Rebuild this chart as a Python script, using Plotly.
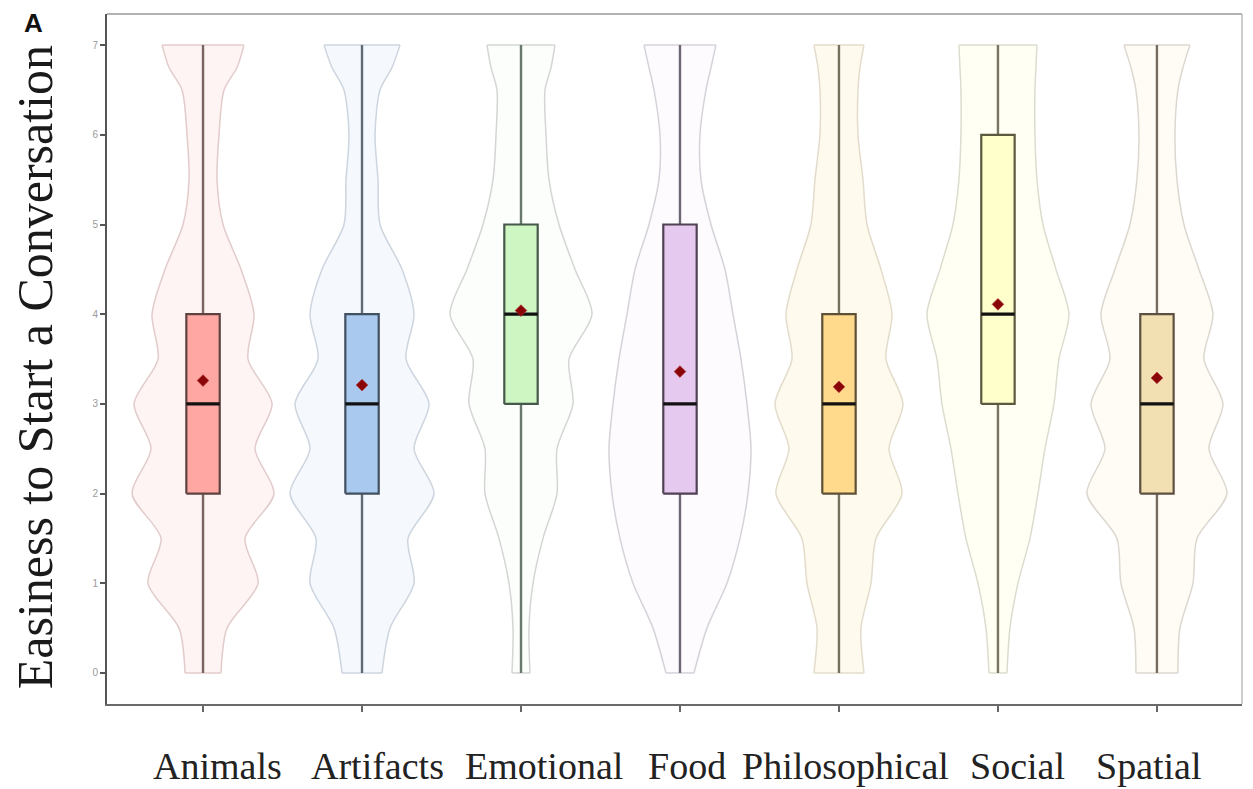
import plotly.graph_objects as go

# Categories and summary statistics
categories = ["Animals", "Artifacts", "Emotional", "Food", "Philosophical", "Social", "Spatial"]
q1 = [2, 2, 3, 2, 2, 3, 2]
median = [3, 3, 4, 3, 3, 4, 3]
q3 = [4, 4, 5, 5, 4, 6, 4]
lower = [0, 0, 0, 0, 0, 0, 0]
upper = [7, 7, 7, 7, 7, 7, 7]
means = [3.26, 3.21, 4.04, 3.36, 3.19, 4.11, 3.29]

# Kernel density (relative half-width) evaluated at these scores
density_y = [0, 0.5, 1, 1.5, 2, 2.5, 3, 3.5, 4, 4.5, 5, 5.5, 6, 6.5, 6.75, 7]
dens_animals = [18, 24, 55, 42, 71, 52, 69, 45, 51, 38, 20, 14, 16, 21, 34, 41]
dens_artifacts = [20, 28, 52, 46, 72, 52, 67, 44, 52, 40, 18, 16, 13, 18, 30, 38]
dens_emotional = [9, 8, 12, 22, 36, 36, 52, 48, 71, 54, 38, 28, 25, 24, 30, 34]
dens_food = [14, 27, 47, 60, 68, 71, 67, 61, 53, 45, 31, 21, 20, 26, 31, 36]
dens_philosophical = [25, 22, 32, 37, 63, 50, 64, 47, 53, 42, 28, 24, 19, 19, 21, 25]
dens_social = [9, 12, 20, 32, 40, 47, 56, 61, 71, 58, 45, 39, 37, 37, 38, 39]
dens_spatial = [21, 23, 36, 40, 70, 52, 66, 47, 56, 42, 27, 20, 18, 21, 26, 33]
densities = [dens_animals, dens_artifacts, dens_emotional, dens_food,
             dens_philosophical, dens_social, dens_spatial]

# Styling
box_fill = ["#ffa8a3", "#a9c9ee", "#cdf6c2", "#e6c9ee", "#ffd98c", "#ffffcc", "#f2dfb2"]
box_line = ["#5e4240", "#41505e", "#45584a", "#4e4254", "#5e5036", "#5c5a3e", "#5e5040"]
whisker_col = ["#7a6462", "#5f6b76", "#6a786c", "#6e6672", "#76705e", "#76745e", "#776c60"]
violin_fill = ["#fdf4f3", "#f5f9fe", "#fbfefb", "#fdfbfe", "#fffaee", "#fffff3", "#fffcf6"]
violin_line = ["#e2cccb", "#cdd5df", "#d3d6d3", "#d6d2da", "#e3dccb", "#dcdccf", "#dcd8d0"]
label_shift = [0.094, 0.10, 0.145, 0.044, 0.038, 0.126, -0.05]  # category label nudges
DENS_TO_X = 1.0 / 159.0   # density units -> category-axis units
BOX_WIDTH = 0.21
SERIF = "Liberation Serif"

fig = go.Figure()

# Violins: left edge, right edge filled back to the left edge, flat caps at the ends
for i, cat in enumerate(categories):
    d = densities[i]
    edge = dict(color=violin_line[i], width=1.5, shape="spline", smoothing=0.8)
    fig.add_trace(go.Scatter(
        x=[i - v * DENS_TO_X for v in d], y=density_y, mode="lines",
        line=edge, hoverinfo="skip", showlegend=False,
    ))
    fig.add_trace(go.Scatter(
        x=[i + v * DENS_TO_X for v in d], y=density_y, mode="lines",
        line=edge, fill="tonextx", fillcolor=violin_fill[i],
        hoverinfo="skip", showlegend=False,
    ))
    fig.add_trace(go.Scatter(
        x=[i - d[0] * DENS_TO_X, i + d[0] * DENS_TO_X, None,
           i - d[-1] * DENS_TO_X, i + d[-1] * DENS_TO_X],
        y=[density_y[0], density_y[0], None, density_y[-1], density_y[-1]],
        mode="lines", line=dict(color=violin_line[i], width=1.5),
        hoverinfo="skip", showlegend=False,
    ))

# Box plots: whisker across the full range, box from Q1 to Q3, median bar
for i, cat in enumerate(categories):
    left, right = i - BOX_WIDTH / 2, i + BOX_WIDTH / 2
    fig.add_trace(go.Scatter(
        x=[i, i], y=[lower[i], upper[i]], mode="lines",
        line=dict(color=whisker_col[i], width=2.4),
        hoverinfo="skip", showlegend=False,
    ))
    fig.add_trace(go.Scatter(
        x=[left, right, right, left, left],
        y=[q1[i], q1[i], q3[i], q3[i], q1[i]],
        mode="lines", fill="toself", fillcolor=box_fill[i],
        line=dict(color=box_line[i], width=2.2),
        name=cat, hoverinfo="name", showlegend=False,
    ))
    fig.add_trace(go.Scatter(
        x=[left, right], y=[median[i], median[i]],
        mode="lines", line=dict(color="#111111", width=3.2),
        hoverinfo="skip", showlegend=False,
    ))

# Group means
fig.add_trace(go.Scatter(
    x=list(range(len(categories))), y=means, mode="markers",
    marker=dict(symbol="diamond", size=9, color="#8a0508",
                line=dict(color="#b53030", width=0.6)),
    showlegend=False, hovertemplate="%{y:.2f}<extra></extra>",
))

# Category names under the axis
annotations = [
    dict(text=cat, xref="x", yref="paper", x=i + label_shift[i], y=-0.056,
         xanchor="center", yanchor="top", showarrow=False,
         font=dict(family=SERIF, size=38, color="#222222"))
    for i, cat in enumerate(categories)
]
# Axis title and panel letter
annotations.append(dict(
    text="Easiness to Start a Conversation", xref="paper", yref="paper",
    x=-0.0634, y=0.488, xanchor="center", yanchor="middle", textangle=-90,
    showarrow=False, font=dict(family=SERIF, size=50, color="#1a1a1a"),
))
annotations.append(dict(
    text="<b>A</b>", xref="paper", yref="paper", x=-0.075, y=1.011,
    xanchor="left", yanchor="top", showarrow=False,
    font=dict(family="Liberation Sans", size=26, color="#111111"),
))

fig.update_layout(
    width=1253, height=789,
    margin=dict(l=107, r=11, t=14, b=85),
    paper_bgcolor="white", plot_bgcolor="white",
    showlegend=False,
    xaxis=dict(
        range=[-0.604, 6.535], automargin=False,
        tickmode="array", tickvals=list(range(len(categories))),
        showticklabels=False,
        ticks="outside", ticklen=6, tickwidth=1.5, tickcolor="#666666",
        showgrid=False, zeroline=False,
        showline=True, linecolor="#6a6a6a", linewidth=2, mirror=False,
    ),
    yaxis=dict(
        range=[-0.346, 7.347], automargin=False,
        tickmode="array", tickvals=[0, 1, 2, 3, 4, 5, 6, 7],
        ticks="outside", ticklen=5, tickwidth=1.5, tickcolor="#555555",
        tickfont=dict(family="Liberation Sans", size=10, color="#9a9a9a"),
        showgrid=False, zeroline=False,
        showline=True, linecolor="#555555", linewidth=2, mirror=False,
    ),
    shapes=[
        dict(type="line", xref="paper", yref="paper", x0=0, x1=1, y0=1, y1=1,
             line=dict(color="#9a9a9a", width=1.5)),
        dict(type="line", xref="paper", yref="paper", x0=1, x1=1, y0=0, y1=1,
             line=dict(color="#bdbdbd", width=1.5)),
    ],
    annotations=annotations,
)

fig.write_html("out.html")
